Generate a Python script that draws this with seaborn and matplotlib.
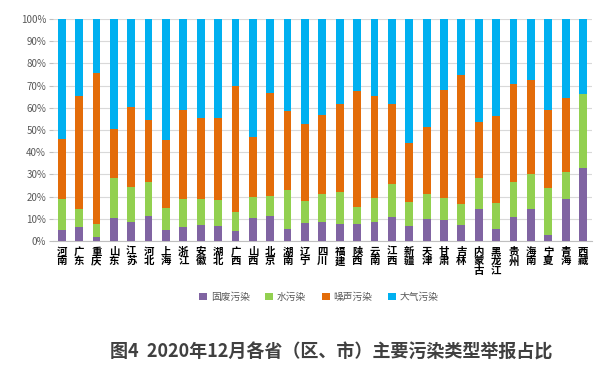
import matplotlib
matplotlib.use("Agg")
import matplotlib.pyplot as plt
import seaborn as sns
import numpy as np
import pandas as pd
from matplotlib.patches import Patch

provinces = ["河南", "广东", "重庆", "山东", "江苏", "河北", "上海", "浙江", "安徽", "湖北",
             "广西", "山西", "北京", "湖南", "辽宁", "四川", "福建", "陕西", "云南", "江西",
             "新疆", "天津", "甘肃", "吉林", "内蒙古", "黑龙江", "贵州", "海南", "宁夏", "青海", "西藏"]
# percentages
solid_waste = [5.1, 6.3, 1.7, 10.5, 8.7, 11.3, 5.0, 6.3, 7.1, 6.6,
               4.4, 10.5, 11.3, 5.4, 8.0, 8.7, 7.5, 7.5, 8.6, 10.8,
               6.9, 9.9, 9.3, 7.4, 14.5, 5.6, 11.0, 14.5, 2.6, 18.8, 33.1]
water = [13.7, 7.9, 6.1, 17.8, 15.8, 15.4, 9.8, 12.5, 11.7, 11.9,
         8.7, 9.2, 9.2, 17.5, 10.1, 12.4, 14.8, 7.7, 10.8, 15.0,
         10.6, 11.3, 10.0, 9.3, 14.0, 11.7, 15.7, 15.9, 21.3, 12.1, 33.3]
noise = [27.3, 51.3, 67.7, 22.0, 35.7, 28.0, 30.7, 40.2, 36.8, 37.1,
         56.6, 27.0, 46.1, 35.8, 34.5, 35.8, 39.4, 52.4, 46.0, 35.9,
         26.5, 30.0, 48.9, 58.1, 25.3, 39.2, 44.2, 42.0, 35.3, 33.4, 0.0]
air = [100 - a - b - c for a, b, c in zip(solid_waste, water, noise)]

series_names = ["固废污染", "水污染", "噪声污染", "大气污染"]
colors = ["#8064A2", "#92D050", "#E36C09", "#00B0F0"]

sns.set_theme(style="white")
plt.rcParams['font.family'] = ['Noto Sans CJK SC', 'DejaVu Sans']

df = pd.DataFrame({"省份": provinces, "固废污染": solid_waste, "水污染": water,
                   "噪声污染": noise, "大气污染": air})
cum = df[series_names].cumsum(axis=1)

fig = plt.figure(figsize=(6.05, 3.78), dpi=100)
ax = fig.add_axes([0.0876, 0.3624, 0.8904, 0.5873])

# draw from top-of-stack down so lower segments overlay
for name, col in reversed(list(zip(series_names, colors))):
    sns.barplot(x=df["省份"], y=cum[name], color=col, width=0.45, ax=ax,
                saturation=1, linewidth=0, zorder=3)

ax.set_ylim(0, 100)
ax.set_xlim(-0.5, len(provinces) - 0.5)
ax.set_yticks(np.arange(0, 101, 10))
ax.set_yticklabels([f"{v}%" for v in range(0, 101, 10)], fontsize=7, color="#595959")
ax.yaxis.grid(True, color="#D9D9D9", linewidth=0.8, zorder=0)
ax.set_axisbelow(True)
ax.set_xlabel("")
ax.set_ylabel("")
for s in ["top", "right", "left"]:
    ax.spines[s].set_visible(False)
ax.spines["bottom"].set_color("#BFBFBF")
ax.spines["bottom"].set_linewidth(0.8)

ax.set_xticks(range(len(provinces)))
ax.set_xticklabels(["\n".join(p) for p in provinces], fontsize=7.5, fontweight="bold",
                   color="#000000", linespacing=0.95, va="top")
ax.tick_params(axis="x", which="major", length=0, pad=4)
ax.set_xticks(np.arange(-0.5, len(provinces), 1), minor=True)
ax.tick_params(axis="x", which="minor", length=4, color="#BFBFBF", width=0.8)
ax.tick_params(axis="y", length=3, color="#BFBFBF", width=0.8, pad=2, left=True)

handles = [Patch(facecolor=c, edgecolor="none", label=n) for n, c in zip(series_names, colors)]
fig.legend(handles=handles, loc="center", bbox_to_anchor=(0.527, 0.214), ncol=4,
           frameon=False, fontsize=7, handlelength=0.8, handleheight=0.8,
           columnspacing=1.6, handletextpad=0.4, labelcolor="#595959")

fig.text(0.548, 0.068, "图4  2020年12月各省（区、市）主要污染类型举报占比",
         ha="center", va="center", fontsize=13, fontweight="bold", color="#404040")

fig.savefig("out.png", dpi=100)
